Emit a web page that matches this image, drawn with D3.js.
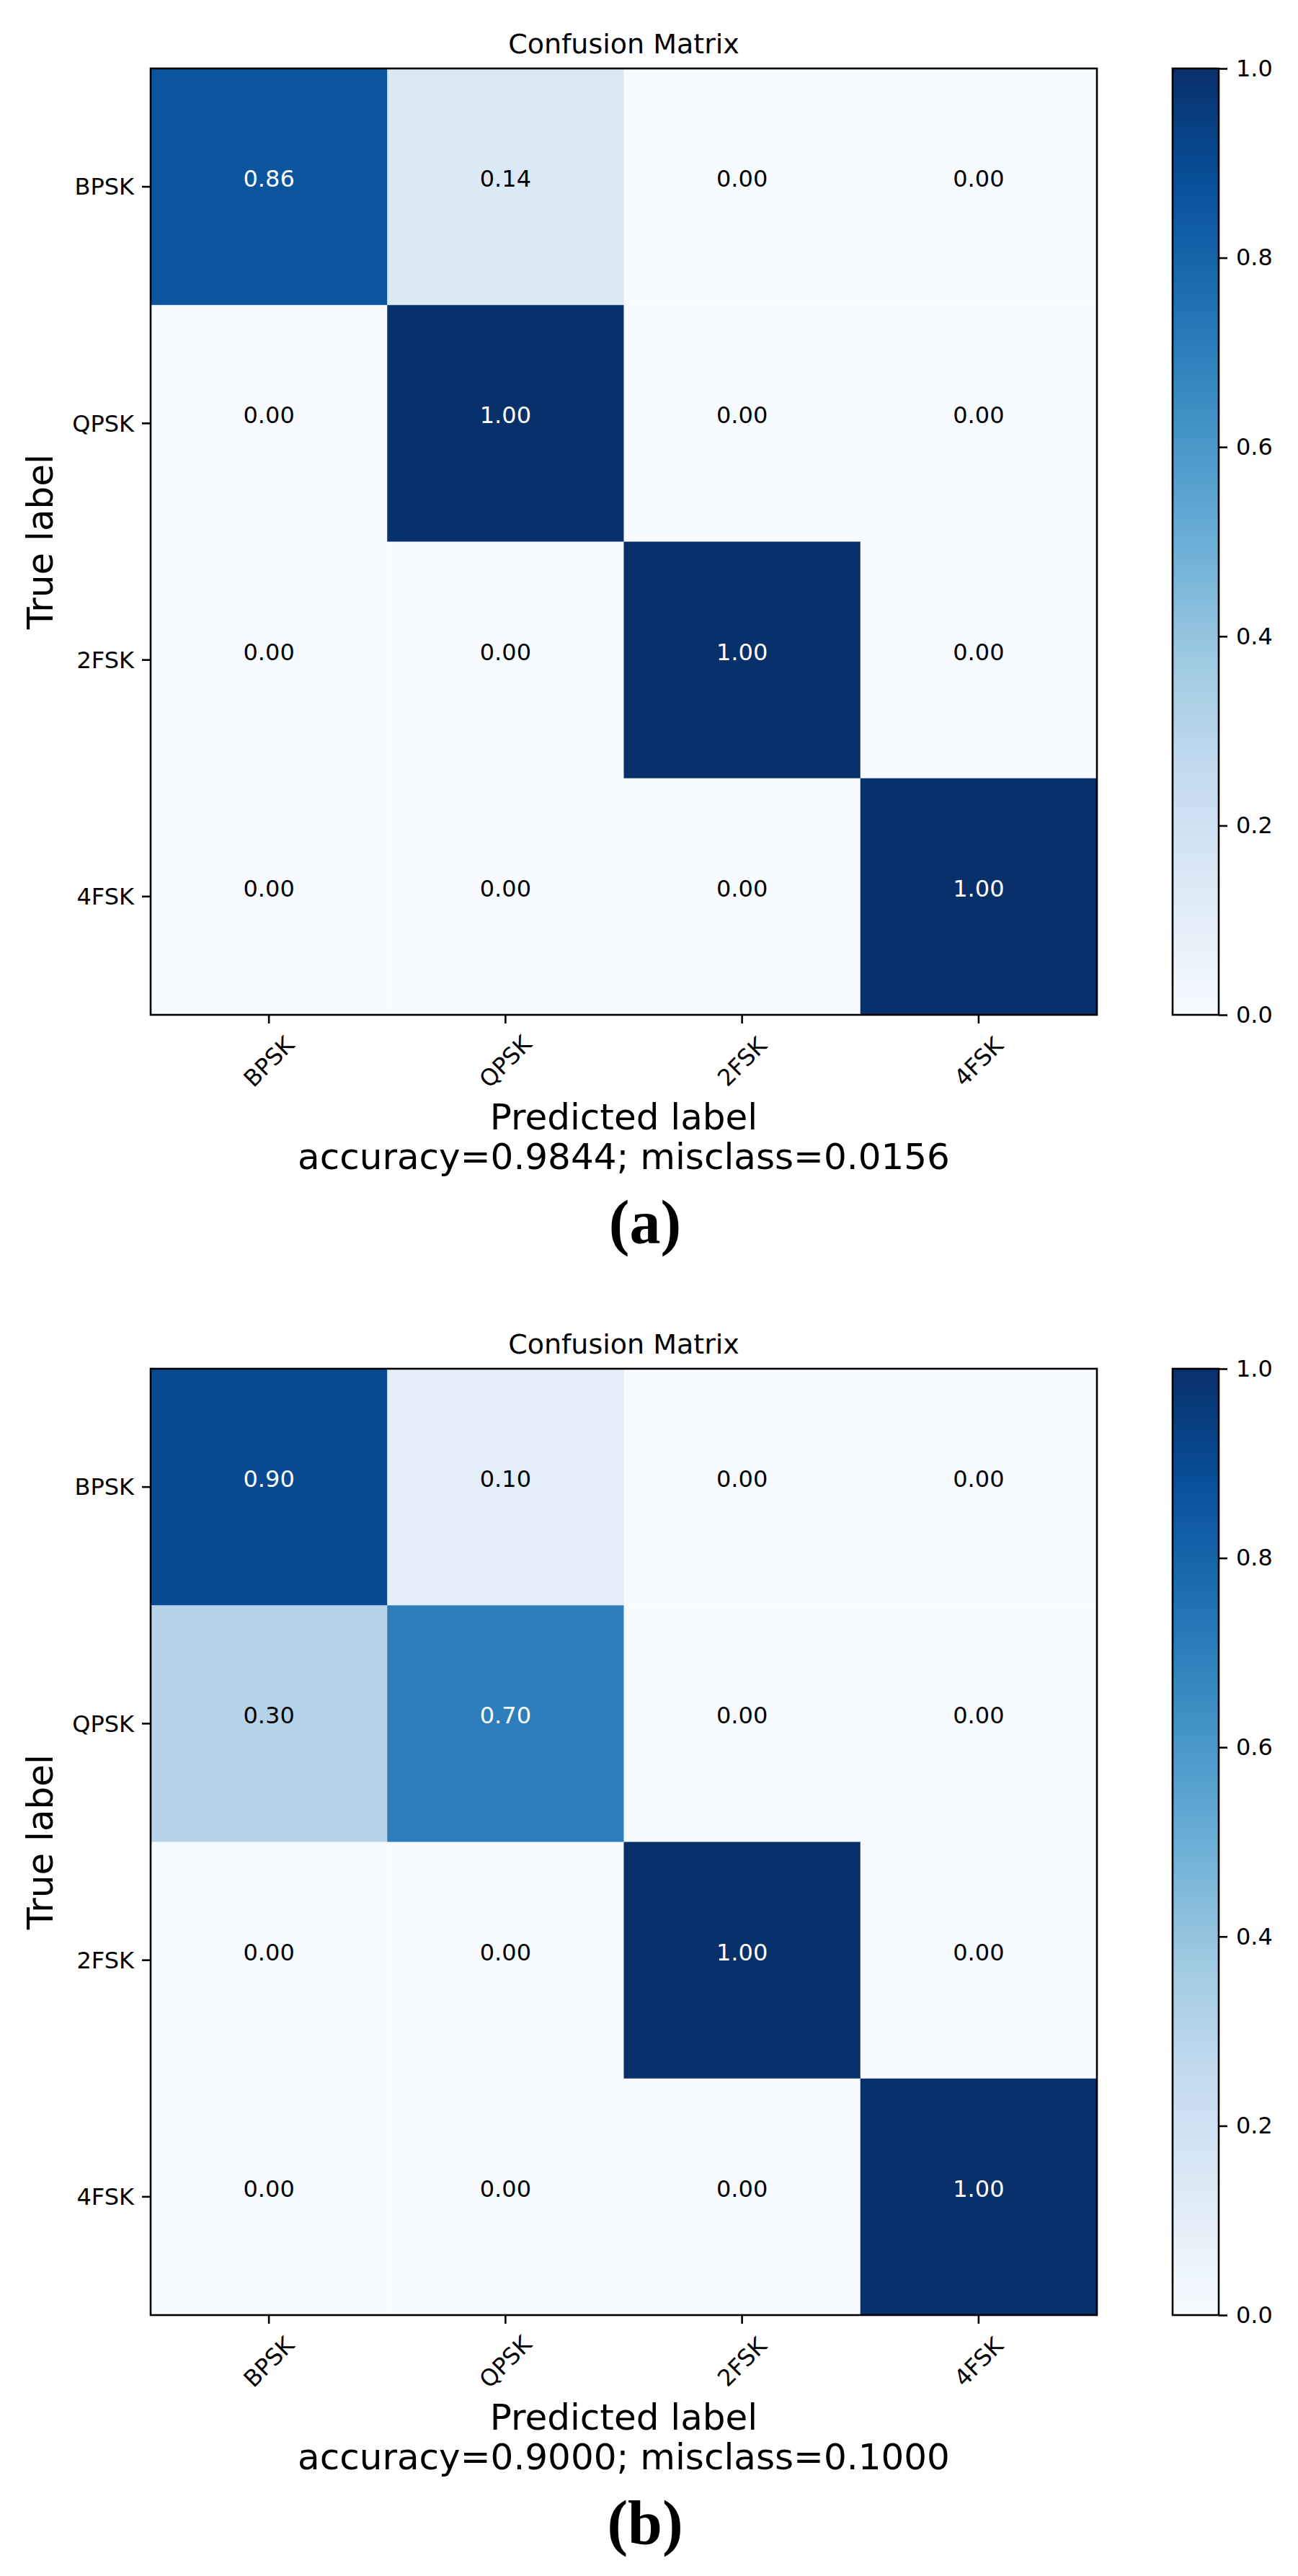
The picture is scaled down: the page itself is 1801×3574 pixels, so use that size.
<!DOCTYPE html>
<html>
<head>
<meta charset="utf-8">
<script src="https://cdn.jsdelivr.net/npm/d3@7"></script>
<style>
  html, body { margin: 0; padding: 0; background: #ffffff; }
  svg { display: block; }
</style>
</head>
<body>
<script>
// ---------------- data ----------------
const categories = ["BPSK", "QPSK", "2FSK", "4FSK"];
const matrixA = [
  [0.86, 0.14, 0.00, 0.00],
  [0.00, 1.00, 0.00, 0.00],
  [0.00, 0.00, 1.00, 0.00],
  [0.00, 0.00, 0.00, 1.00]
];
const matrixB = [
  [0.90, 0.10, 0.00, 0.00],
  [0.30, 0.70, 0.00, 0.00],
  [0.00, 0.00, 1.00, 0.00],
  [0.00, 0.00, 0.00, 1.00]
];
const accuracies = [0.9844, 0.9000];
const misclasses = [0.0156, 0.1000];
const panelLabels = ["(a)", "(b)"];
const colorbarTicks = [0.0, 0.2, 0.4, 0.6, 0.8, 1.0];
const chartTitle = "Confusion Matrix";
const xLabel = "Predicted label";
const yLabel = "True label";
// matplotlib "Blues" colormap anchor colours
const bluesStops = ["#f7fbff","#deebf7","#c6dbef","#9ecae1","#6baed6","#4292c6","#2171b5","#08519c","#08306b"];

// ---------------- layout ----------------
const W = 1801, H = 3574;
const panelOffset = 1804;
const plot = { left: 209, top: 95, size: 1313 };
const cbar = { left: 1627, width: 64 };
const FONT = "'DejaVu Sans', sans-serif";
const LW = 2.6;

const color = d3.scaleLinear()
  .domain(bluesStops.map((_, i) => i / (bluesStops.length - 1)))
  .range(bluesStops)
  .interpolate(d3.interpolateRgb)
  .clamp(true);

const svg = d3.select("body").append("svg")
  .attr("width", W).attr("height", H)
  .attr("viewBox", `0 0 ${W} ${H}`);
svg.append("rect").attr("width", W).attr("height", H).attr("fill", "#ffffff");

// gradient for colorbar
const defs = svg.append("defs");
const grad = defs.append("linearGradient").attr("id", "bluesGrad")
  .attr("x1", 0).attr("y1", 1).attr("x2", 0).attr("y2", 0);
d3.range(0, 1.0001, 0.02).forEach(t => {
  grad.append("stop").attr("offset", t).attr("stop-color", color(t));
});

const fmtCell = d3.format(".2f");
const fmtAcc = d3.format(".4f");
const fmtBar = d3.format(".1f");

function drawPanel(matrix, idx) {
  const oy = idx * panelOffset;
  const g = svg.append("g").attr("transform", `translate(0,${oy})`);

  const x = d3.scaleBand().domain(categories).range([plot.left, plot.left + plot.size]);
  const y = d3.scaleBand().domain(categories).range([plot.top, plot.top + plot.size]);

  // title
  g.append("text")
    .attr("x", plot.left + plot.size / 2).attr("y", 74)
    .attr("text-anchor", "middle")
    .attr("font-family", FONT).attr("font-size", 38).attr("fill", "#000")
    .text(chartTitle);

  // cells
  const cells = [];
  matrix.forEach((row, i) => row.forEach((v, j) => cells.push({ i, j, v })));
  g.append("g").selectAll("rect").data(cells).join("rect")
    .attr("x", d => x(categories[d.j]))
    .attr("y", d => y(categories[d.i]))
    .attr("width", x.bandwidth() + 0.5)
    .attr("height", y.bandwidth() + 0.5)
    .attr("fill", d => color(d.v));

  const vmax = d3.max(cells, d => d.v);
  g.append("g").selectAll("text").data(cells).join("text")
    .attr("x", d => x(categories[d.j]) + x.bandwidth() / 2)
    .attr("y", d => y(categories[d.i]) + y.bandwidth() / 2)
    .attr("text-anchor", "middle")
    .attr("font-family", FONT).attr("font-size", 32)
    .attr("fill", d => d.v > vmax / 2 ? "#ffffff" : "#000000")
    .text(d => fmtCell(d.v));

  // frame
  g.append("rect")
    .attr("x", plot.left).attr("y", plot.top)
    .attr("width", plot.size).attr("height", plot.size)
    .attr("fill", "none").attr("stroke", "#000").attr("stroke-width", LW);

  // y axis
  const yAxis = g.append("g")
    .attr("transform", `translate(${plot.left},0)`)
    .call(d3.axisLeft(y).tickSize(12).tickPadding(11));
  yAxis.select(".domain").remove();
  yAxis.selectAll(".tick line").attr("stroke", "#000").attr("stroke-width", LW);
  yAxis.selectAll(".tick text")
    .attr("font-family", FONT).attr("font-size", 32).attr("fill", "#000")
    .attr("dy", "0.35em");

  // x axis
  const xAxis = g.append("g")
    .attr("transform", `translate(0,${plot.top + plot.size})`)
    .call(d3.axisBottom(x).tickSize(12));
  xAxis.select(".domain").remove();
  xAxis.selectAll(".tick line").attr("stroke", "#000").attr("stroke-width", LW);
  xAxis.selectAll(".tick text")
    .attr("font-family", FONT).attr("font-size", 32).attr("fill", "#000")
    .attr("text-anchor", "middle")
    .attr("dy", null).attr("y", null)
    .attr("dominant-baseline", "central")
    .attr("transform", "translate(0,65) rotate(-45)");

  // axis labels
  const cx = plot.left + plot.size / 2;
  g.append("text")
    .attr("x", cx).attr("y", 1567)
    .attr("text-anchor", "middle")
    .attr("font-family", FONT).attr("font-size", 50).attr("fill", "#000")
    .text(xLabel);
  g.append("text")
    .attr("x", cx).attr("y", 1622)
    .attr("text-anchor", "middle")
    .attr("font-family", FONT).attr("font-size", 50).attr("fill", "#000")
    .text(`accuracy=${fmtAcc(accuracies[idx])}; misclass=${fmtAcc(misclasses[idx])}`);
  g.append("text")
    .attr("transform", `translate(73,${plot.top + plot.size / 2}) rotate(-90)`)
    .attr("text-anchor", "middle")
    .attr("font-family", FONT).attr("font-size", 50).attr("fill", "#000")
    .text(yLabel);

  // colorbar
  const cs = d3.scaleLinear().domain([0, 1]).range([plot.top + plot.size, plot.top]);
  g.append("rect")
    .attr("x", cbar.left).attr("y", plot.top)
    .attr("width", cbar.width).attr("height", plot.size)
    .attr("fill", "url(#bluesGrad)")
    .attr("stroke", "#000").attr("stroke-width", LW);
  const cAxis = g.append("g")
    .attr("transform", `translate(${cbar.left + cbar.width},0)`)
    .call(d3.axisRight(cs).tickValues(colorbarTicks).tickFormat(fmtBar).tickSize(12).tickPadding(12));
  cAxis.select(".domain").remove();
  cAxis.selectAll(".tick line").attr("stroke", "#000").attr("stroke-width", LW);
  cAxis.selectAll(".tick text")
    .attr("font-family", FONT).attr("font-size", 32).attr("fill", "#000");

  // panel label
  g.append("text")
    .attr("x", 895).attr("y", 1725)
    .attr("text-anchor", "middle")
    .attr("font-family", "'Liberation Serif', 'DejaVu Serif', serif")
    .attr("font-weight", "bold")
    .attr("font-size", 86).attr("fill", "#000")
    .text(panelLabels[idx]);
}

drawPanel(matrixA, 0);
drawPanel(matrixB, 1);
</script>
</body>
</html>
